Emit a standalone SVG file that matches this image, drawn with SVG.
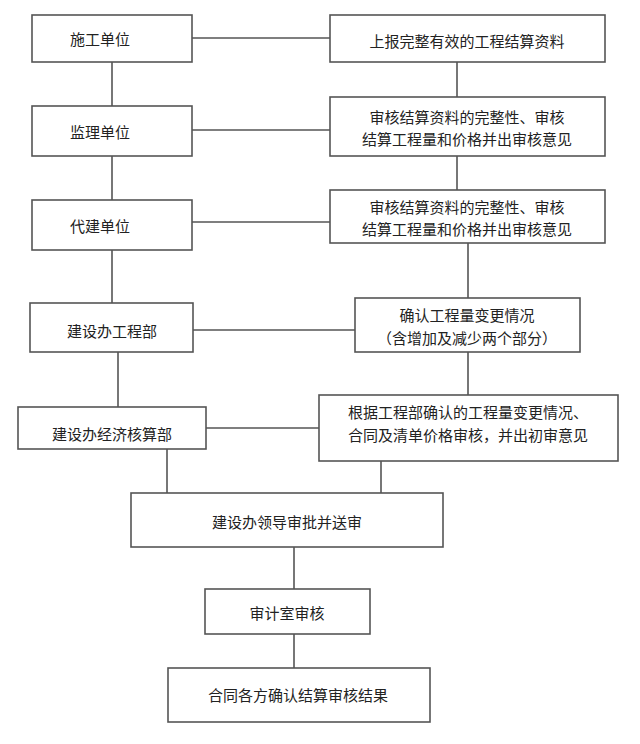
<svg xmlns="http://www.w3.org/2000/svg" width="640" height="744" viewBox="0 0 640 744">
<style>
.b{fill:#fff;stroke:#555;stroke-width:1.6}
.c line{stroke:#555;stroke-width:1.6}
text{font-family:"Noto Sans CJK SC","Liberation Sans",sans-serif;font-size:15px;fill:#222;text-anchor:middle;dominant-baseline:central}
</style>
<rect width="640" height="744" fill="#fff"/>
<g class="c">
<line x1="192" y1="38" x2="330" y2="38"/>
<line x1="192" y1="130" x2="330" y2="130"/>
<line x1="192" y1="222" x2="330" y2="222"/>
<line x1="193" y1="330" x2="355" y2="330"/>
<line x1="206" y1="428" x2="319" y2="428"/>
<line x1="112" y1="62" x2="112" y2="106"/>
<line x1="112" y1="156" x2="112" y2="200"/>
<line x1="112" y1="250" x2="112" y2="303"/>
<line x1="118" y1="352" x2="118" y2="407"/>
<line x1="457" y1="62" x2="457" y2="97"/>
<line x1="457" y1="156" x2="457" y2="190"/>
<line x1="468" y1="243" x2="468" y2="298"/>
<line x1="468" y1="352" x2="468" y2="395"/>
<line x1="167" y1="449" x2="167" y2="493"/>
<line x1="381" y1="461" x2="381" y2="493"/>
<line x1="294" y1="547" x2="294" y2="589"/>
<line x1="294" y1="634" x2="294" y2="668"/>
</g>
<g id="n1"><rect class="b" x="32" y="15" width="160" height="47"/><text x="100" y="38">施工单位</text></g>
<g id="n2"><rect class="b" x="32" y="106" width="160" height="50"/><text x="100" y="131">监理单位</text></g>
<g id="n3"><rect class="b" x="32" y="200" width="160" height="50"/><text x="100" y="225">代建单位</text></g>
<g id="n4"><rect class="b" x="30" y="303" width="163" height="49"/><text x="112" y="330">建设办工程部</text></g>
<g id="n5"><rect class="b" x="18" y="407" width="188" height="42"/><text x="112" y="433">建设办经济核算部</text></g>
<g id="r1"><rect class="b" x="330" y="15" width="275" height="47"/><text x="467" y="40">上报完整有效的工程结算资料</text></g>
<g id="r2"><rect class="b" x="330" y="97" width="275" height="59"/><text x="467" y="116">审核结算资料的完整性、审核</text><text x="467" y="138">结算工程量和价格并出审核意见</text></g>
<g id="r3"><rect class="b" x="330" y="190" width="275" height="53"/><text x="467" y="206">审核结算资料的完整性、审核</text><text x="467" y="228">结算工程量和价格并出审核意见</text></g>
<g id="r4"><rect class="b" x="355" y="298" width="225" height="54"/><text x="467" y="314">确认工程量变更情况</text><text x="467" y="337">（含增加及减少两个部分）</text></g>
<g id="r5"><rect class="b" x="319" y="395" width="299" height="66"/><text x="468" y="411">根据工程部确认的工程量变更情况、</text><text x="468" y="434">合同及清单价格审核，并出初审意见</text></g>
<g id="b1"><rect class="b" x="131" y="493" width="312" height="54"/><text x="287" y="521">建设办领导审批并送审</text></g>
<g id="b2"><rect class="b" x="205" y="589" width="165" height="45"/><text x="287" y="612">审计室审核</text></g>
<g id="b3"><rect class="b" x="168" y="668" width="262" height="54"/><text x="298" y="694">合同各方确认结算审核结果</text></g>
</svg>
